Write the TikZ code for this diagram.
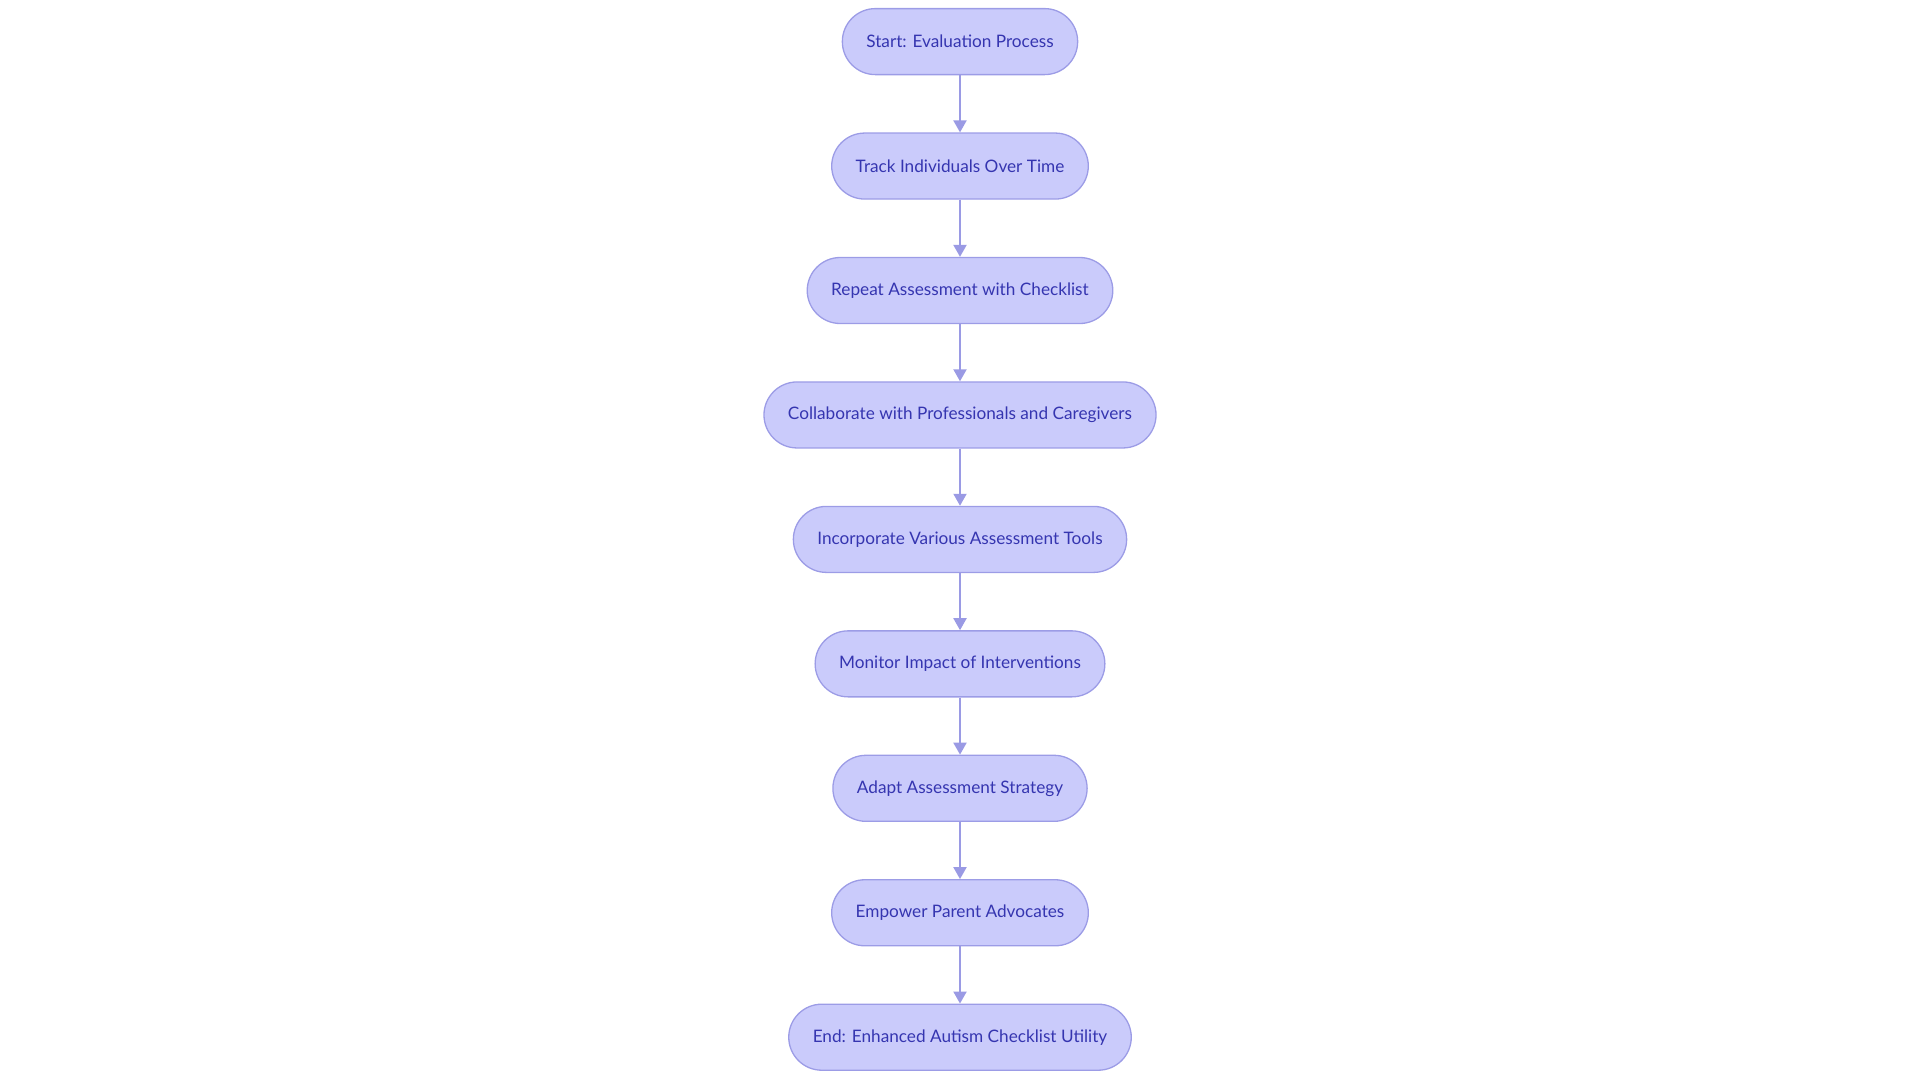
\documentclass[tikz,border=0pt]{standalone}
\usepackage{fontspec}
\setmainfont{Lato}
\usetikzlibrary{arrows.meta}
\definecolor{boxfill}{HTML}{CACBFB}
\definecolor{boxline}{HTML}{9C9CE6}
\definecolor{boxtext}{HTML}{3535B0}
\definecolor{arrowline}{HTML}{9A9AE4}
\begin{document}
\begin{tikzpicture}[
        x=1pt, y=1pt,
        stepbox/.style={rectangle, rounded corners=33pt, draw=boxline, line width=1.3pt, fill=boxfill, text=boxtext, minimum height=66pt, inner xsep=24pt, font=\fontsize{17.2}{20}\selectfont},
        flow/.style={draw=arrowline, line width=2pt, -{Triangle[length=12pt, width=13pt]}},
        ]
        % Page frame
        \useasboundingbox (0,0) rectangle (1920,-1080);
        % Steps, top to bottom
        \foreach \i/\txt in {
            1/Start: Evaluation Process,
            2/Track Individuals Over Time,
            3/Repeat Assessment with Checklist,
            4/Collaborate with Professionals and Caregivers,
            5/Incorporate Various Assessment Tools,
            6/Monitor Impact of Interventions,
            7/Adapt Assessment Strategy,
            8/Empower Parent Advocates,
            9/End: Enhanced Autism Checklist Utility
        } {
            \node[stepbox] (s\i) at (960,{-41.6-124.45*(\i-1)}) {\txt};
        }
        % Connectors
        \foreach \i [evaluate=\i as \j using int(\i+1)] in {1,...,8} {
            \draw[flow] (s\i) -- (s\j);
        }
    \end{tikzpicture}
\end{document}
